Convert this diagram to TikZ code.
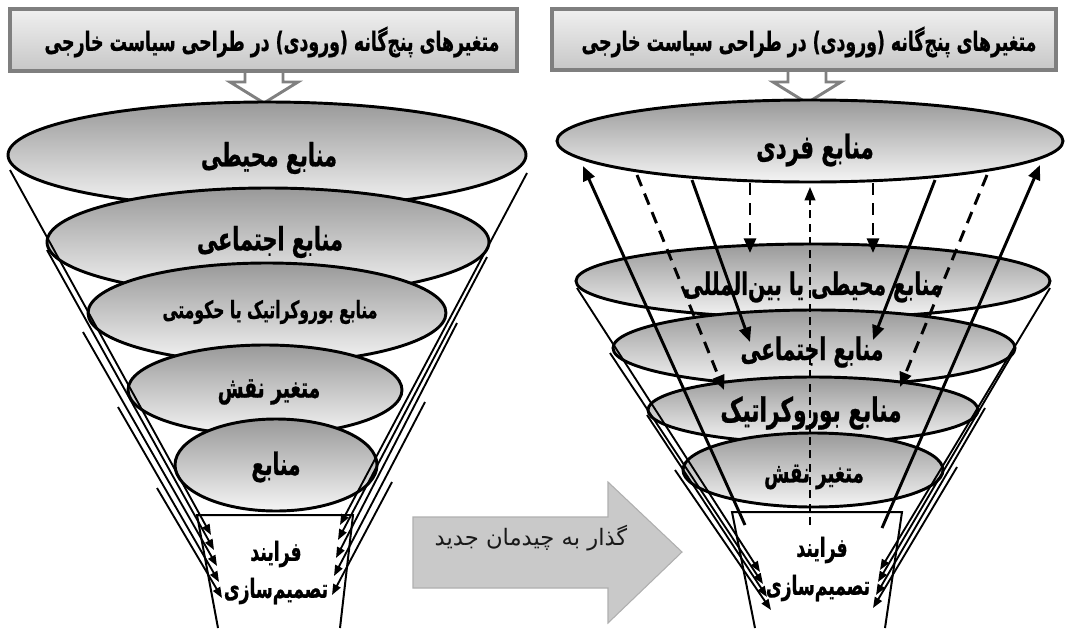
\documentclass[tikz,border=0pt]{standalone}
\usepackage{fontspec}
\usetikzlibrary{arrows.meta,shapes.geometric}
\TeXXeTstate=1
\newfontfamily\fa[Script=Arabic]{DejaVu Sans}
\newfontfamily\fab[Script=Arabic,FakeStretch=0.65,FakeBold=0.8]{DejaVu Sans Bold}
\newcommand\rtltxt[1]{\beginR#1\endR}
\newcommand\zw{^^^^200c}
\definecolor{midgray}{HTML}{C9C9C9}
\definecolor{midedge}{HTML}{AFAFAF}
\definecolor{boxedge}{HTML}{7F7F7F}
\begin{document}
\begin{tikzpicture}[x=0.75pt,y=-0.75pt,
  ell/.style 2 args={ellipse, draw=black, line width=2.2pt, inner sep=0pt,
     top color=black!40, bottom color=black!4,
     minimum width={#1*1.5pt}, minimum height={#2*1.5pt}},
  bt/.style={font=\fab\fontsize{#1}{#1}\selectfont, inner sep=0pt},
  titlebox/.style={draw=boxedge, line width=3pt, top color=black!6, bottom color=black!22},
  downarr/.style={draw=black!50, line width=2.2pt, fill=white, line join=miter},
  midarr/.style={draw=midedge, line width=0.8pt, fill=midgray},
  funnel/.style={draw=black, line width=1.5pt},
  bundle/.style={draw=black, line width=1.4pt, -{Triangle[length=8pt,width=6pt]}},
  sarr/.style={draw=black, line width=2.2pt, -{Triangle[length=11pt,width=9pt]}},
  darr/.style={draw=black, line width=2.2pt, dash pattern=on 9pt off 6pt, -{Triangle[length=11pt,width=9pt]}},
  carr/.style={draw=black, line width=1.4pt, dash pattern=on 6pt off 4pt, -{Triangle[length=10pt,width=8pt]}}
]
\useasboundingbox (0,0) rectangle (1066,628);

% ---------- left panel ----------
\draw[downarr] (245,70) -- (245,82) -- (230,82) -- (264,103) -- (298,82) -- (283,82) -- (283,70);
\draw[titlebox] (10,9) rectangle (517,71);
\node[bt=20] (lt) at (272,42) {\rtltxt{متغیرهای پنج\zw گانه (ورودی) در طراحی سیاست خارجی}};

\node[ell={259}{53}] (L1) at (267,155) {};
\node[ell={221}{54}] (L2) at (268,242) {};
\node[ell={179}{50}] (L3) at (267,313) {};
\node[ell={137}{45}] (L4) at (265,390) {};
\node[ell={101}{46}] (L5) at (276,465) {};
\node[bt=24] (L1t) at (269,158) {\rtltxt{منابع محیطی}};
\node[bt=24] (L2t) at (270,242) {\rtltxt{منابع اجتماعی}};
\node[bt=18] (L3t) at (270,312) {\rtltxt{منابع بوروکراتیک یا حکومتی}};
\node[bt=21.6] (L4t) at (269,392) {\rtltxt{متغیر نقش}};
\node[bt=23] (L5t) at (276,467) {\rtltxt{منابع}};

\coordinate (LB1) at (218,628); \coordinate (LB2) at (197,515);
\coordinate (LB3) at (353,515); \coordinate (LB4) at (340,628);
\draw[funnel] (LB1) -- (LB2) -- (LB3) -- (LB4);
\node[bt=19.8] (Lf1) at (276,554) {\rtltxt{فرایند}};
\node[bt=19.8] (Lf2) at (276,591) {\rtltxt{تصمیم\zw سازی}};

\foreach \i/\sx/\sy/\ex/\ey in {1/10/170/211/535, 2/47/250/214/550, 3/83/332/217/566, 4/118/407/219/582, 5/157/488/222/598}{
  \coordinate (la\i) at (\sx,\sy); \coordinate (lb\i) at (\ex,\ey);
  \draw[bundle] (la\i) -- (lb\i);
}
\foreach \i/\sx/\sy/\ex/\ey in {1/527/173/340/525, 2/487/257/338/540, 3/457/323/336/558, 4/425/402/334/576, 5/392/482/332/595}{
  \coordinate (ra\i) at (\sx,\sy); \coordinate (rb\i) at (\ex,\ey);
  \draw[bundle] (ra\i) -- (rb\i);
}

% ---------- middle arrow ----------
\draw[midarr] (413,517) -- (608,517) -- (608,482) -- (682,552) -- (608,623) -- (608,588) -- (413,588) -- cycle;
\node[font=\fa\fontsize{17}{17}\selectfont, text=black!90, inner sep=0pt] (mt) at (531,538) {\rtltxt{گذار به چیدمان جدید}};

% ---------- right panel ----------
\draw[downarr] (788,70) -- (788,82) -- (773,82) -- (807,103) -- (841,82) -- (826,82) -- (826,70);
\draw[titlebox] (552,9) rectangle (1056,70);
\node[bt=20] (rt) at (809,42) {\rtltxt{متغیرهای پنج\zw گانه (ورودی) در طراحی سیاست خارجی}};

\node[ell={253}{41}] (R1) at (810,141) {};
\node[ell={237}{37}] (R2) at (813,281) {};
\node[ell={201}{38}] (R3) at (814,348) {};
\node[ell={165}{33}] (R4) at (813,410) {};
\node[ell={130}{37}] (R5) at (813,470) {};
\node[bt=24.6] (R1t) at (815,150) {\rtltxt{منابع فردی}};
\node[bt=23.2] (R2t) at (813,287) {\rtltxt{منابع محیطی یا بین\zw المللی}};
\node[bt=23.5] (R3t) at (812,352) {\rtltxt{منابع اجتماعی}};
\node[bt=25] (R4t) at (811,413) {\rtltxt{منابع بوروکراتیک}};
\node[bt=21] (R5t) at (814,477) {\rtltxt{متغیر نقش}};

\coordinate (RB1) at (755,628); \coordinate (RB2) at (732,512);
\coordinate (RB3) at (902,512); \coordinate (RB4) at (885,628);
\draw[funnel] (RB1) -- (RB2) -- (RB3) -- (RB4);
\node[bt=19.8] (Rf1) at (822,550) {\rtltxt{فرایند}};
\node[bt=19.8] (Rf2) at (818,588) {\rtltxt{تصمیم\zw سازی}};

\foreach \i/\sx/\sy/\ex/\ey in {1/577/288/760/572, 2/610/353/763/584, 3/647/415/767/597, 4/675/470/771/610}{
  \coordinate (pa\i) at (\sx,\sy); \coordinate (pb\i) at (\ex,\ey);
  \draw[bundle] (pa\i) -- (pb\i);
}
\foreach \i/\sx/\sy/\ex/\ey in {1/1050/288/880/570, 2/1013/353/878/582, 3/985/408/876/595, 4/957/467/873/608}{
  \coordinate (qa\i) at (\sx,\sy); \coordinate (qb\i) at (\ex,\ey);
  \draw[bundle] (qa\i) -- (qb\i);
}

% arrows between layers
\coordinate (u1a) at (745,525); \coordinate (u1b) at (583,166);
\coordinate (u2a) at (882,528); \coordinate (u2b) at (1040,165);
\draw[sarr] (u1a) -- (u1b);
\draw[sarr] (u2a) -- (u2b);
\coordinate (d1a) at (692,180); \coordinate (d1b) at (750,342);
\coordinate (d2a) at (935,180); \coordinate (d2b) at (873,340);
\draw[sarr] (d1a) -- (d1b);
\draw[sarr] (d2a) -- (d2b);
\coordinate (v1a) at (750,183); \coordinate (v1b) at (750,253);
\coordinate (v2a) at (873,183); \coordinate (v2b) at (873,253);
\draw[darr] (v1a) -- (v1b);
\draw[darr] (v2a) -- (v2b);
\coordinate (g1a) at (637,175); \coordinate (g1b) at (724,390);
\coordinate (g2a) at (987,175); \coordinate (g2b) at (900,387);
\draw[darr] (g1a) -- (g1b);
\draw[darr] (g2a) -- (g2b);
\coordinate (ca) at (810,525); \coordinate (cb) at (810,187);
\draw[carr] (ca) -- (cb);
\end{tikzpicture}
\end{document}
